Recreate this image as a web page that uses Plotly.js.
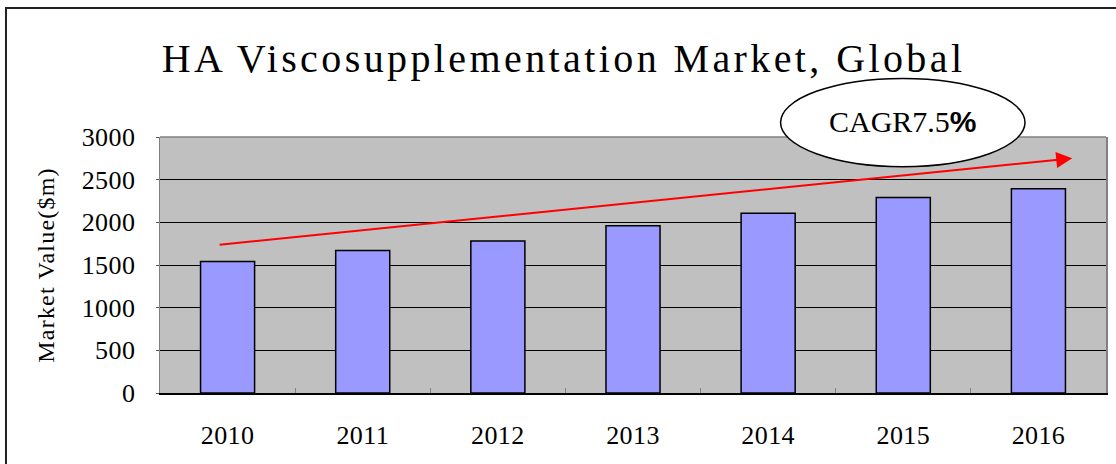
<!DOCTYPE html>
<html>
<head>
<meta charset="utf-8">
<script src="https://cdn.plot.ly/plotly-3.0.1.min.js"></script>
<style>
  html, body { margin: 0; padding: 0; background: #fff; }
  #chart { width: 1116px; height: 464px; }
  .gtitle { letter-spacing: 3.4px; }
  .xtick text, .ytick text { letter-spacing: 0.4px; }
  .ytitle { letter-spacing: 1.2px; }
</style>
</head>
<body>
<div id="chart"></div>
<script>
// ---- data ----
const years = ["2010", "2011", "2012", "2013", "2014", "2015", "2016"];
const marketValue = [1540, 1670, 1780, 1960, 2105, 2290, 2395];
const yTickValues = [0, 500, 1000, 1500, 2000, 2500, 3000];
const chartTitle = "HA Viscosupplementation Market, Global";
const yAxisTitle = "Market Value($m)";
const cagrLabel = "CAGR7.5";
const cagrSymbol = "%";
// trend arrow endpoints (category index, value)
const trendStart = [-0.07, 1735];
const trendEnd = [6.25, 2750];

const serif = "Liberation Serif, Times New Roman, serif";

const trace = {
  type: "bar",
  x: years,
  y: marketValue,
  marker: { color: "#9999ff", line: { color: "#000000", width: 1.5 } },
  hoverinfo: "x+y"
};

const layout = {
  width: 1116,
  height: 464,
  margin: { l: 160, r: 10, t: 137, b: 71 },
  paper_bgcolor: "#ffffff",
  plot_bgcolor: "#c0c0c0",
  showlegend: false,
  bargap: 0.6,
  font: { family: serif, color: "#000000" },
  title: {
    text: chartTitle,
    font: { family: serif, size: 40, color: "#000000" },
    xref: "container", x: 0.505, xanchor: "center",
    yref: "container", y: 0.875, yanchor: "middle"
  },
  xaxis: {
    type: "category",
    tickfont: { family: serif, size: 26, color: "#000000" },
    ticks: "inside",
    tickson: "boundaries",
    ticklen: 5,
    tickcolor: "#808080",
    ticklabelstandoff: 18,
    showline: true,
    linecolor: "#000000",
    linewidth: 1.5,
    mirror: false,
    showgrid: false,
    zeroline: false,
    range: [-0.5, 6.5]
  },
  yaxis: {
    range: [0, 3000],
    tickvals: yTickValues,
    ticktext: yTickValues.map(String),
    tickfont: { family: serif, size: 26, color: "#000000" },
    ticks: "outside",
    ticklen: 3,
    tickcolor: "#555555",
    ticklabelstandoff: 15,
    showline: true,
    linecolor: "#808080",
    linewidth: 1.5,
    mirror: true,
    showgrid: true,
    gridcolor: "#000000",
    gridwidth: 1,
    zeroline: false,
    title: {
      text: yAxisTitle,
      font: { family: serif, size: 24, color: "#000000" },
      standoff: 20
    }
  },
  shapes: [
    // outer chart frame
    { type: "rect", xref: "paper", yref: "paper",
      x0: -0.1628, x1: 1.03, y0: -0.4, y1: 1.504,
      line: { color: "#222222", width: 2 }, fillcolor: "rgba(0,0,0,0)", layer: "above" },
    // top plot border
    { type: "line", xref: "paper", yref: "paper", x0: 0, x1: 1, y0: 1, y1: 1,
      line: { color: "#808080", width: 1.5 }, layer: "above" },
    // CAGR ellipse
    { type: "circle", xref: "paper", yref: "paper",
      x0: 0.656, x1: 0.9144, y0: 0.884, y1: 1.229,
      line: { color: "#000000", width: 1.5 }, fillcolor: "#ffffff", layer: "above" }
  ],
  annotations: [
    {
      xref: "x", yref: "y", axref: "x", ayref: "y",
      x: trendEnd[0], y: trendEnd[1],
      ax: trendStart[0], ay: trendStart[1],
      showarrow: true, arrowhead: 2, arrowsize: 1.6, arrowwidth: 2,
      arrowcolor: "#ff0000", text: ""
    },
    {
      xref: "paper", yref: "paper", x: 0.7854, y: 1.0586,
      xanchor: "center", yanchor: "middle", showarrow: false,
      text: cagrLabel + "<span style='font-family:Liberation Sans, Arial, sans-serif;font-weight:bold'>" + cagrSymbol + "</span>",
      font: { family: serif, size: 30, color: "#000000" }
    }
  ]
};

Plotly.newPlot("chart", [trace], layout, { displayModeBar: false, staticPlot: true });
</script>
</body>
</html>
